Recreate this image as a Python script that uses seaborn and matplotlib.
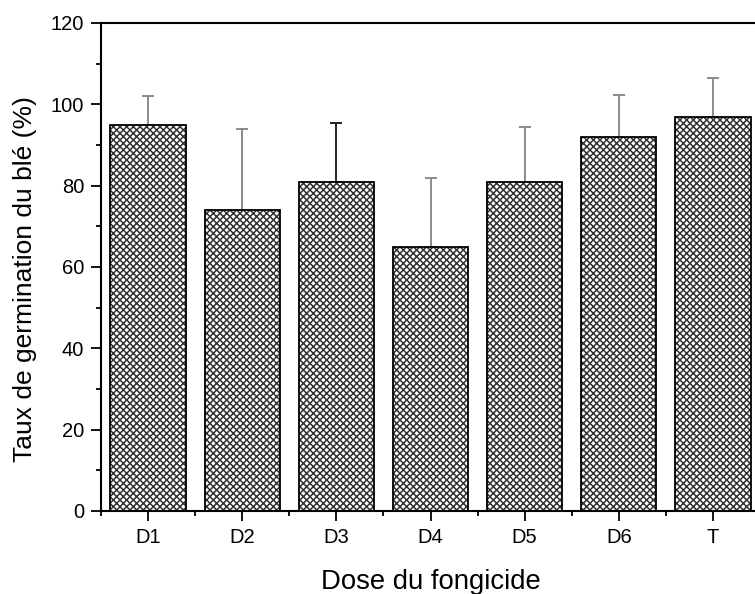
import matplotlib
matplotlib.use("Agg")
import matplotlib.pyplot as plt
from matplotlib.ticker import MultipleLocator, FixedLocator
import seaborn as sns
import pandas as pd
import numpy as np

# Germination rate per fungicide dose (mean and upper standard deviation)
doses = ["D1", "D2", "D3", "D4", "D5", "D6", "T"]
germination = [95, 74, 81, 65, 81, 92, 97]
std_upper = [7, 20, 14.5, 17, 13.5, 10.3, 9.4]
err_colors = ["#8a8a8a", "#8a8a8a", "#222222", "#8a8a8a", "#8a8a8a", "#8a8a8a", "#8a8a8a"]

df = pd.DataFrame({"dose": doses, "taux": germination})

sns.set_style("ticks")
plt.rcParams["font.family"] = ["Liberation Sans", "DejaVu Sans"]
plt.rcParams["hatch.linewidth"] = 1.1
plt.rcParams["hatch.color"] = "#333333"

fig = plt.figure(figsize=(7.55, 5.94), dpi=100)
ax = fig.add_axes([101 / 755, 1 - 511 / 594, 659 / 755, (511 - 23) / 594])

sns.barplot(data=df, x="dose", y="taux", color="white", width=0.8,
            errorbar=None, ax=ax, zorder=2)
for p in ax.patches:
    p.set_hatch("xxxxx")
    p.set_edgecolor("#333333")
    p.set_linewidth(0)

# crisp black outline drawn over the hatched fill
xs = np.arange(len(doses))
ax.bar(xs, germination, width=0.8, fill=False, edgecolor="black",
       linewidth=1.3, zorder=3)

for x, y, e, c in zip(xs, germination, std_upper, err_colors):
    ax.errorbar(x, y, yerr=[[0], [e]], fmt="none", ecolor=c,
                elinewidth=1.4, capsize=4, capthick=1.4, zorder=1)

ax.set_xlim(-0.5, len(doses) - 0.5)
ax.set_ylim(0, 120)
ax.yaxis.set_major_locator(MultipleLocator(20))
ax.yaxis.set_minor_locator(MultipleLocator(10))
ax.xaxis.set_minor_locator(FixedLocator(np.arange(-0.5, len(doses), 1.0)))

for side in ["left", "bottom", "top", "right"]:
    ax.spines[side].set_linewidth(1.5)
    ax.spines[side].set_color("black")

ax.tick_params(axis="both", which="major", direction="out", length=7,
               width=1.3, labelsize=14.5, colors="black", labelcolor="black", pad=5)
ax.tick_params(axis="both", which="minor", direction="out", length=3.5,
               width=1.3, colors="black")

ax.set_xlabel("Dose du fongicide", fontsize=19.8, labelpad=16, color="black")
ax.set_ylabel("Taux de germination du blé (%)", fontsize=19, labelpad=10, color="black")
ax.yaxis.label.set_y((511 - 279) / 488)

fig.savefig("out.png", dpi=100)
